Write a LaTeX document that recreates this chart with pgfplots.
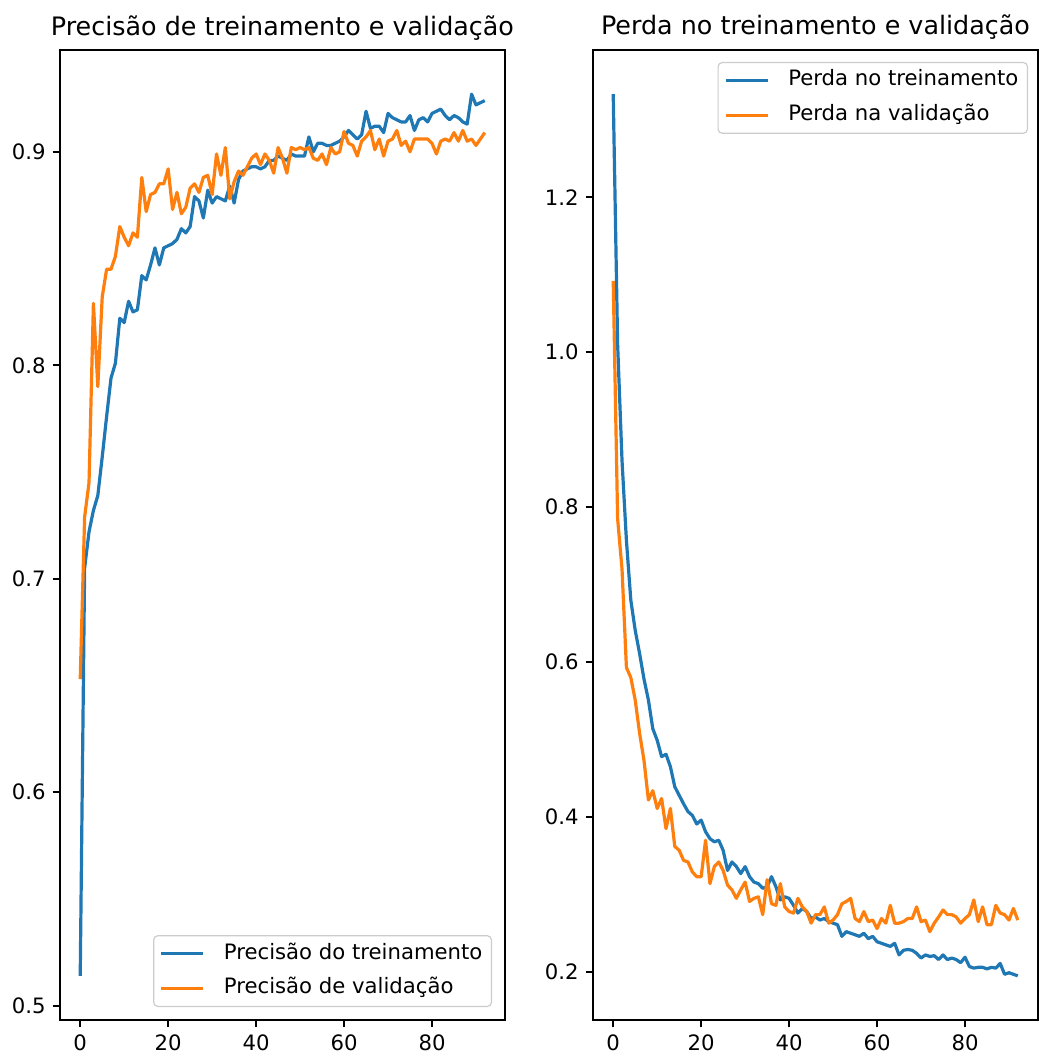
\documentclass[border=0pt]{standalone}
\usepackage{fontspec}
\setmainfont{DejaVu Sans}
\usepackage{pgfplots}
\usepackage{pgfplotstable}
\pgfplotsset{compat=1.18}

\definecolor{mplblue}{HTML}{1F77B4}
\definecolor{mplorange}{HTML}{FF7F0E}

% epoch, training accuracy, validation accuracy
\pgfplotstableread{
ep tr va
0 0.514 0.653
1 0.705 0.729
2 0.722 0.745
3 0.732 0.829
4 0.739 0.790
5 0.757 0.832
6 0.776 0.845
7 0.794 0.845
8 0.801 0.851
9 0.822 0.865
10 0.820 0.860
11 0.830 0.856
12 0.825 0.862
13 0.826 0.860
14 0.842 0.888
15 0.840 0.872
16 0.847 0.880
17 0.855 0.881
18 0.847 0.885
19 0.855 0.885
20 0.856 0.892
21 0.857 0.873
22 0.859 0.881
23 0.864 0.871
24 0.862 0.874
25 0.865 0.883
26 0.879 0.885
27 0.877 0.881
28 0.869 0.888
29 0.882 0.889
30 0.876 0.880
31 0.879 0.899
32 0.878 0.889
33 0.877 0.902
34 0.884 0.878
35 0.876 0.886
36 0.887 0.891
37 0.891 0.889
38 0.892 0.893
39 0.893 0.897
40 0.893 0.899
41 0.892 0.894
42 0.893 0.899
43 0.896 0.896
44 0.896 0.890
45 0.898 0.902
46 0.897 0.897
47 0.896 0.890
48 0.899 0.902
49 0.898 0.901
50 0.898 0.902
51 0.898 0.901
52 0.907 0.902
53 0.900 0.897
54 0.904 0.896
55 0.904 0.899
56 0.903 0.894
57 0.903 0.902
58 0.904 0.899
59 0.905 0.900
60 0.907 0.9095
61 0.910 0.904
62 0.908 0.903
63 0.906 0.898
64 0.908 0.905
65 0.919 0.907
66 0.911 0.910
67 0.912 0.901
68 0.912 0.906
69 0.909 0.898
70 0.918 0.905
71 0.916 0.906
72 0.915 0.910
73 0.914 0.903
74 0.914 0.905
75 0.917 0.900
76 0.910 0.906
77 0.915 0.906
78 0.916 0.906
79 0.914 0.906
80 0.918 0.904
81 0.919 0.899
82 0.920 0.905
83 0.917 0.906
84 0.915 0.905
85 0.917 0.909
86 0.916 0.905
87 0.914 0.910
88 0.913 0.905
89 0.927 0.906
90 0.922 0.903
91 0.923 0.906
92 0.924 0.909
}\acctable

% epoch, training loss, validation loss
\pgfplotstableread{
ep tr va
0 1.333 1.092
1 1.010 0.785
2 0.860 0.720
3 0.757 0.593
4 0.680 0.580
5 0.641 0.551
6 0.611 0.508
7 0.578 0.473
8 0.551 0.422
9 0.514 0.434
10 0.499 0.411
11 0.478 0.424
12 0.481 0.385
13 0.465 0.411
14 0.439 0.362
15 0.428 0.357
16 0.417 0.344
17 0.407 0.342
18 0.402 0.329
19 0.391 0.323
20 0.396 0.323
21 0.381 0.370
22 0.372 0.314
23 0.368 0.336
24 0.370 0.342
25 0.357 0.331
26 0.331 0.312
27 0.342 0.306
28 0.336 0.295
29 0.327 0.306
30 0.336 0.316
31 0.323 0.291
32 0.316 0.295
33 0.314 0.297
34 0.308 0.274
35 0.310 0.319
36 0.323 0.288
37 0.310 0.286
38 0.293 0.314
39 0.297 0.284
40 0.295 0.278
41 0.286 0.276
42 0.276 0.295
43 0.282 0.284
44 0.278 0.278
45 0.269 0.263
46 0.271 0.274
47 0.267 0.274
48 0.269 0.284
49 0.265 0.263
50 0.263 0.267
51 0.261 0.274
52 0.246 0.288
53 0.252 0.291
54 0.250 0.295
55 0.248 0.269
56 0.246 0.265
57 0.250 0.278
58 0.243 0.265
59 0.246 0.267
60 0.239 0.256
61 0.237 0.269
62 0.235 0.263
63 0.233 0.286
64 0.237 0.263
65 0.222 0.263
66 0.228 0.265
67 0.229 0.269
68 0.228 0.269
69 0.224 0.284
70 0.218 0.265
71 0.222 0.267
72 0.220 0.252
73 0.221 0.263
74 0.216 0.271
75 0.222 0.280
76 0.216 0.274
77 0.218 0.274
78 0.216 0.271
79 0.212 0.263
80 0.219 0.269
81 0.207 0.274
82 0.205 0.293
83 0.206 0.265
84 0.206 0.284
85 0.204 0.261
86 0.206 0.261
87 0.205 0.286
88 0.211 0.276
89 0.197 0.274
90 0.199 0.267
91 0.197 0.282
92 0.195 0.267
}\losstable

\pgfplotsset{mpl/.style={
  scale only axis, width=222.5pt, height=485pt,
  xmin=-4.6, xmax=96.6, xtick={0,20,40,60,80},
  axis line style={line width=0.85pt},
  tick align=outside, tick pos=left, major tick length=3.7pt,
  every tick/.style={black, line width=0.85pt},
  tick label style={font=\fontsize{10.6}{12}\selectfont},
  xticklabel style={/pgf/number format/assume math mode=true},
  yticklabel style={/pgf/number format/.cd, fixed, fixed zerofill, precision=1, assume math mode=true},
  title style={font=\fontsize{12.7}{15}\selectfont, anchor=base, yshift=1.5pt},
  legend cell align=left,
  legend image code/.code={\draw[#1] (0pt,0pt) -- (21pt,0pt);},
  legend style={font=\fontsize{10.6}{12}\selectfont, draw=black!20, line width=0.6pt,
    rounded corners=2pt, fill=white, fill opacity=0.8, text opacity=1,
    inner xsep=3pt, inner ysep=2.5pt, row sep=4.5pt, column sep=8pt,
    nodes={inner sep=1.5pt, text height=7.6pt, text depth=2.3pt}},
  every axis plot/.append style={line width=1.6pt, line join=round},
}}

\begin{document}
\begin{tikzpicture}
\begin{axis}[mpl, at={(0pt,0pt)},
  title={Precisão de treinamento e validação},
  ymin=0.4933, ymax=0.9477, ytick={0.5,0.6,0.7,0.8,0.9},
  legend style={at={(1,0)}, anchor=south east, xshift=-6.5pt, yshift=6.5pt}]
\addplot[mplblue] table[x=ep, y=tr] {\acctable};
\addlegendentry{Precisão do treinamento}
\addplot[mplorange] table[x=ep, y=va] {\acctable};
\addlegendentry{Precisão de validação}
\end{axis}

\begin{axis}[mpl, at={(266.5pt,0pt)},
  title={Perda no treinamento e validação},
  ymin=0.138, ymax=1.390, ytick={0.2,0.4,0.6,0.8,1.0,1.2},
  legend style={at={(1,1)}, anchor=north east, xshift=-5pt, yshift=-6pt}]
\addplot[mplblue] table[x=ep, y=tr] {\losstable};
\addlegendentry{Perda no treinamento}
\addplot[mplorange] table[x=ep, y=va] {\losstable};
\addlegendentry{Perda na validação}
\end{axis}

\pgfresetboundingbox
\path (-30pt,-18.5pt) rectangle (490pt,510pt);
\end{tikzpicture}
\end{document}
